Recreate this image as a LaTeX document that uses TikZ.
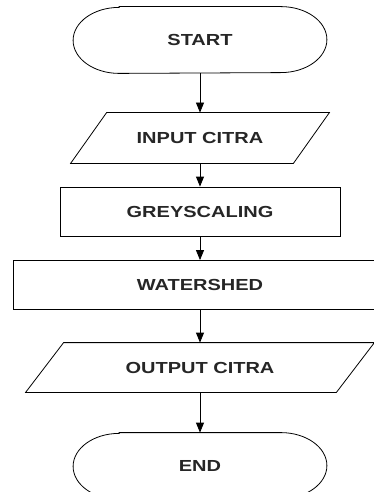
\documentclass[tikz,border=0pt]{standalone}
\usepackage{fontspec}
\newfontfamily\flowfont[FakeStretch=1.25]{Liberation Sans}
\usetikzlibrary{arrows.meta}

\begin{document}
\begin{tikzpicture}[x=1pt,y=-1pt,font=\flowfont\fontsize{16}{18}\selectfont\bfseries]
  %----- styles
  \tikzset{
    term/.style  ={minimum width=253pt,minimum height=66pt},
    io/.style    ={minimum height=50pt},
    proc/.style  ={draw,minimum height=49pt},
    arrow/.style ={-{Triangle[length=10pt,width=8pt]},line width=0.8pt},
    every node/.append style={line width=0.8pt,text=black!85}
  }
  \useasboundingbox (0,0) rectangle (374,492);

  %----- nodes
  \node[term] (start) at (200, 40) {START};
  \node[io,minimum width=258pt] (in) at (200,138) {INPUT CITRA};
  \node[proc,minimum width=280pt] (grey) at (200,211.5) {GREYSCALING};
  \node[proc,minimum width=374pt] (water) at (200,285) {WATERSHED};
  \node[io,minimum width=348pt,minimum height=49pt] (out) at (200,367.5) {OUTPUT CITRA};
  \node[term] (end) at (200,466) {END};

  % terminals with elliptic ends
  \foreach \t in {start,end}
    \draw[line width=0.8pt] ([xshift=46pt]\t.north west) -- ([xshift=-46pt]\t.north east)
      arc[start angle=90,end angle=-90,x radius=46pt,y radius=33pt]
      -- ([xshift=46pt]\t.south west)
      arc[start angle=270,end angle=90,x radius=46pt,y radius=33pt] -- cycle;

  % slanted input/output boxes
  \foreach \t/\s in {in/36pt,out/38pt}
    \draw[line width=0.8pt] ([xshift=\s]\t.north west) -- (\t.north east)
      -- ([xshift=-\s]\t.south east) -- (\t.south west) -- cycle;

  %----- connections
  \draw[arrow] (start.south) -- (in.north);
  \draw[arrow] (in.south) -- (grey.north);
  \draw[arrow] (grey.south) -- (water.north);
  \draw[arrow] (water.south) -- (out.north);
  \draw[arrow] (out.south) -- (end.north);
\end{tikzpicture}
\end{document}
